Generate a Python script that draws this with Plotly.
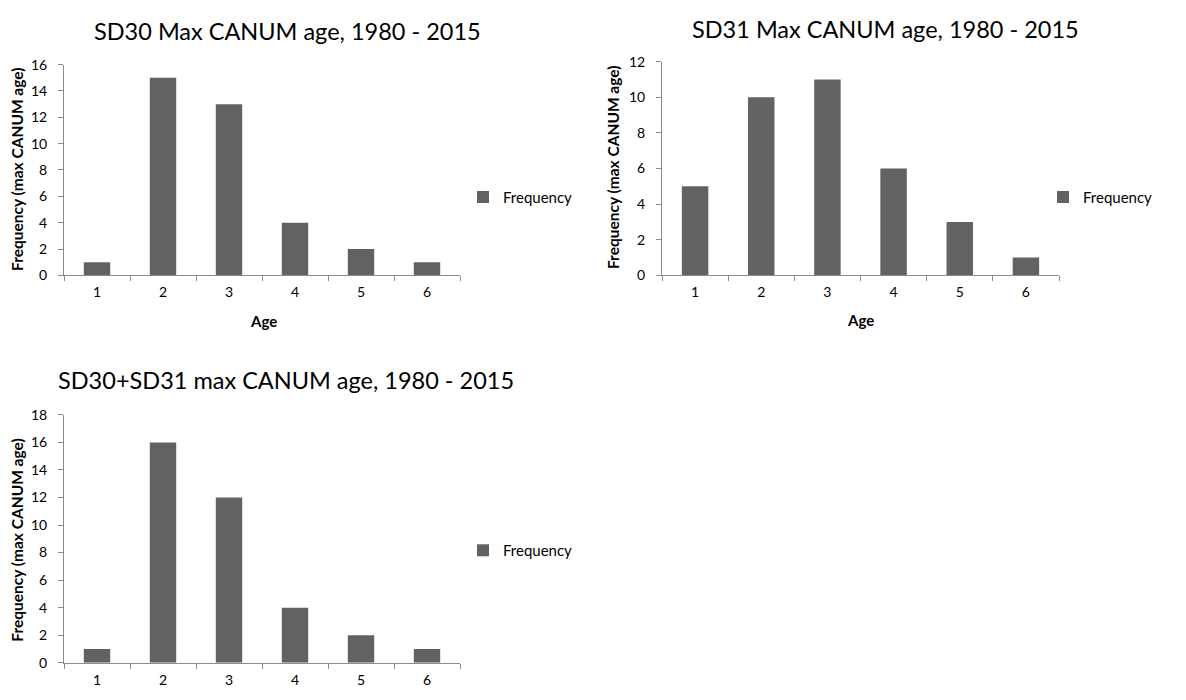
import plotly.graph_objects as go

ages = ["1", "2", "3", "4", "5", "6"]
sd30 = [1, 15, 13, 4, 2, 1]
sd31 = [5, 10, 11, 6, 3, 1]
sd3031 = [1, 16, 12, 4, 2, 1]

titles = ["SD30 Max CANUM age, 1980 - 2015",
          "SD31 Max CANUM age, 1980 - 2015",
          "SD30+SD31 max CANUM age, 1980 - 2015"]
y_title = "Frequency (max CANUM age)"
x_title = "Age"
series_name = "Frequency"
y_ranges = [16, 12, 18]

W, H = 1186, 700
FONT = "Lato"
BAR = "#626262"
AX = "#8c8c8c"

def px(x):
    return x / W

def py(y):
    return 1 - y / H

fig = go.Figure()

panels = [
    dict(data=sd30, xd=(64, 460), yd=(273, 57), leg="legend", ax=""),
    dict(data=sd31, xd=(662, 1059), yd=(273, 54), leg="legend2", ax="2"),
    dict(data=sd3031, xd=(64, 460), yd=(670, 416), leg="legend3", ax="3"),
]

for i, p in enumerate(panels):
    fig.add_trace(go.Bar(
        x=ages, y=p["data"], name=series_name,
        marker=dict(color=BAR, line=dict(width=0)),
        width=0.4, xaxis="x" + p["ax"], yaxis="y" + p["ax"],
        legend=p["leg"], showlegend=True,
    ))
    xa = dict(domain=[px(p["xd"][0]), px(p["xd"][1])], type="category",
              anchor="y" + p["ax"], range=[-0.5, 5.5], showline=True,
              linecolor=AX, linewidth=1, ticks="outside", tickson="boundaries",
              ticklen=5, tickcolor=AX, showgrid=False, zeroline=False,
              tickfont=dict(family=FONT, size=14, color="#000"),
              ticklabelstandoff=4, fixedrange=True)
    ya = dict(domain=[py(p["yd"][0]), py(p["yd"][1])], anchor="x" + p["ax"],
              range=[0, y_ranges[i]], dtick=2, showline=True, linecolor=AX,
              linewidth=1, ticks="outside", ticklen=5, tickcolor=AX,
              showgrid=False, zeroline=False,
              tickfont=dict(family=FONT, size=14, color="#000"),
              ticklabelstandoff=8, fixedrange=True)
    fig.layout["xaxis" + p["ax"]] = xa
    fig.layout["yaxis" + p["ax"]] = ya

legend_pos = [(463, 193), (1043, 193), (463, 555)]
for k, (lx, ly) in enumerate(legend_pos):
    name = "legend" if k == 0 else "legend%d" % (k + 1)
    fig.layout[name] = dict(x=px(lx), y=py(ly), xanchor="left", yanchor="middle",
                            font=dict(family=FONT, size=15, color="#000"),
                            bgcolor="rgba(0,0,0,0)", borderwidth=0,
                            itemwidth=30, itemclick=False, itemdoubleclick=False)

annotations = []
title_pos = [(287, 23), (885, 20), (286, 380)]
for t, (tx, ty) in zip(titles, title_pos):
    annotations.append(dict(text=t, x=px(tx), y=py(ty), xref="paper", yref="paper",
                            showarrow=False, xanchor="center", yanchor="middle",
                            font=dict(family=FONT, size=23.5, color="#000")))
ytitle_pos = [(17, 165), (613, 163), (17, 545)]
for (tx, ty) in ytitle_pos:
    annotations.append(dict(text="<b>" + y_title + "</b>", x=px(tx), y=py(ty),
                            xref="paper", yref="paper", showarrow=False,
                            textangle=-90, xanchor="center", yanchor="middle",
                            font=dict(family=FONT, size=15.5, color="#000")))
xtitle_pos = [(263, 320), (860, 319)]
for (tx, ty) in xtitle_pos:
    annotations.append(dict(text="<b>" + x_title + "</b>", x=px(tx), y=py(ty),
                            xref="paper", yref="paper", showarrow=False,
                            xanchor="center", yanchor="middle",
                            font=dict(family=FONT, size=15, color="#000")))

fig.update_layout(width=W, height=H, margin=dict(l=0, r=0, t=0, b=0),
                  paper_bgcolor="white", plot_bgcolor="white",
                  annotations=annotations, bargap=0.6)

fig.write_html("out.html", config={"displayModeBar": False})
